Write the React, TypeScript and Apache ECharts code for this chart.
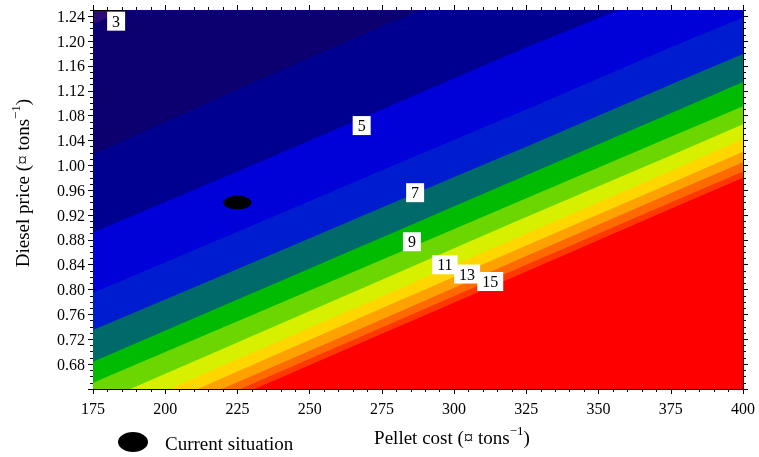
import React, { useEffect, useRef } from 'react';
import * as echarts from 'echarts';

const FONT = '"Liberation Serif", "Times New Roman", serif';

// Contour levels and the colour of the band above each level
const levels = [3, 4, 5, 6, 7, 8, 9, 10, 11, 12, 13, 14, 15];
const bandColors = [
  '#0c0070', '#000090', '#0000d8', '#001ccf', '#006a6a', '#00bb00', '#6cd700',
  '#d6f000', '#ffd600', '#ffa100', '#ff6a00', '#ff3800', '#ff0000',
];
const belowLowestColor = '#2c0c7a';

// Contour lines: [pellet cost, diesel price]
const contour3 = [[175, 1.227], [200, 1.28], [400, 1.68]];
const contour4 = [[175, 1.017], [225, 1.122], [275, 1.224], [300, 1.27], [400, 1.47]];
const contour5 = [[175, 0.892], [225, 0.99], [275, 1.09], [325, 1.19], [357, 1.25], [400, 1.335]];
const contour6 = [[175, 0.795], [225, 0.893], [275, 0.992], [325, 1.09], [375, 1.19], [400, 1.238]];
const contour7 = [[175, 0.735], [225, 0.833], [275, 0.932], [325, 1.03], [375, 1.13], [400, 1.179]];
const contour8 = [[175, 0.684], [225, 0.784], [275, 0.884], [325, 0.984], [375, 1.084], [400, 1.134]];
const contour9 = [[175, 0.65], [225, 0.749], [275, 0.848], [325, 0.947], [375, 1.046], [400, 1.095]];
const contour10 = [[175, 0.614], [225, 0.715], [275, 0.816], [325, 0.917], [375, 1.016], [400, 1.066]];
const contour11 = [[175, 0.586], [225, 0.688], [275, 0.789], [325, 0.89], [375, 0.991], [400, 1.042]];
const contour12 = [[175, 0.566], [225, 0.668], [275, 0.77], [325, 0.871], [375, 0.971], [400, 1.022]];
const contour13 = [[175, 0.55], [225, 0.651], [275, 0.752], [325, 0.854], [375, 0.955], [400, 1.005]];
const contour14 = [[175, 0.538], [225, 0.638], [275, 0.739], [325, 0.84], [375, 0.94], [400, 0.99]];
const contour15 = [[175, 0.527], [225, 0.628], [275, 0.729], [325, 0.829], [375, 0.93], [400, 0.98]];
const contours = [
  contour3, contour4, contour5, contour6, contour7, contour8, contour9,
  contour10, contour11, contour12, contour13, contour14, contour15,
];

// Contour labels
const labelText = ['3', '5', '7', '9', '11', '13', '15'];
const labelX = [183, 268, 286.5, 285.4, 296.8, 304.5, 312.5];
const labelY = [1.232, 1.064, 0.956, 0.877, 0.84, 0.825, 0.813];

// Current situation
const currentX = [225];
const currentY = [0.94];

// Axes
const xMin = 175;
const xMax = 400;
const xStep = 25;
const yMin = 0.64;
const yMax = 1.25;
const yMajorTicks = [0.64, 0.68, 0.72, 0.76, 0.8, 0.84, 0.88, 0.92, 0.96, 1.0, 1.04, 1.08, 1.12, 1.16, 1.2, 1.24];
const yTickLabels = [0.68, 0.72, 0.76, 0.8, 0.84, 0.88, 0.92, 0.96, 1.0, 1.04, 1.08, 1.12, 1.16, 1.2, 1.24];
const yMinorTicks: number[] = [];
for (let i = 64; i <= 125; i++) {
  if ((i - 64) % 4 !== 0) yMinorTicks.push(i / 100);
}

const ELLIPSE = 'path://M0,5 A10,5 0 1,1 20,5 A10,5 0 1,1 0,5 Z';

const titleStyle = (text: string) => ({
  text,
  fontFamily: FONT,
  fontSize: 19,
  lineHeight: 26,
  fill: '#000',
  align: 'center',
  verticalAlign: 'middle',
  rich: {
    sup: { fontFamily: FONT, fontSize: 13, lineHeight: 11, verticalAlign: 'top', fill: '#000' },
  },
});

export default function App() {
  const ref = useRef<HTMLDivElement>(null);
  useEffect(() => {
    if (!ref.current) return;
    const chart = echarts.init(ref.current, null, { renderer: 'svg' });
    const axisLine = { show: true, lineStyle: { color: '#000', width: 1 } };
    const mkY = (pos: string, major: boolean, labels: boolean) => ({
      type: 'value',
      position: pos,
      min: yMin,
      max: yMax,
      axisLine: major ? axisLine : { show: false },
      axisTick: {
        show: true,
        customValues: major ? yMajorTicks : yMinorTicks,
        length: major ? 5 : 3,
        lineStyle: { color: '#000' },
      },
      axisLabel: labels
        ? {
            show: true,
            customValues: yTickLabels,
            formatter: (v: number) => v.toFixed(2),
            fontFamily: FONT,
            fontSize: 16,
            color: '#000',
            margin: 8,
          }
        : { show: false },
      splitLine: { show: false },
    });
    const mkX = (pos: string, labels: boolean) => ({
      type: 'value',
      position: pos,
      min: xMin,
      max: xMax,
      interval: xStep,
      axisLine,
      axisTick: { show: true, length: 5, lineStyle: { color: '#000' } },
      minorTick: { show: true, splitNumber: 5, length: 3, lineStyle: { color: '#000' } },
      axisLabel: labels
        ? { show: true, fontFamily: FONT, fontSize: 16, color: '#000', margin: 11 }
        : { show: false },
      splitLine: { show: false },
      minorSplitLine: { show: false },
    });

    const areaSeries = contours.map((c, i) => ({
      type: 'line',
      name: 'level ' + levels[i],
      data: c,
      symbol: 'none',
      silent: true,
      clip: true,
      lineStyle: { width: 0, opacity: 0 },
      areaStyle: { color: bandColors[i], opacity: 1, origin: 'start' },
      xAxisIndex: 0,
      yAxisIndex: 0,
    }));

    chart.setOption({
      animation: false,
      grid: {
        left: 93,
        right: 16,
        top: 10,
        bottom: 68,
        show: true,
        backgroundColor: belowLowestColor,
        borderWidth: 0,
      },
      xAxis: [mkX('bottom', true), mkX('top', false)],
      yAxis: [mkY('left', true, true), mkY('left', false, false), mkY('right', true, false), mkY('right', false, false)],
      series: [
        ...areaSeries,
        {
          type: 'scatter',
          name: 'Current situation',
          data: currentX.map((x, i) => [x, currentY[i]]),
          symbol: ELLIPSE,
          symbolSize: [28, 14],
          itemStyle: { color: '#000', opacity: 1 },
          silent: true,
          z: 5,
        },
        {
          type: 'scatter',
          name: 'labels',
          data: labelX.map((x, i) => [x, labelY[i], labelText[i]]),
          symbolSize: 0,
          silent: true,
          z: 6,
          itemStyle: { opacity: 1 },
          label: {
            show: true,
            position: 'inside',
            formatter: (p: any) => p.data[2],
            fontFamily: FONT,
            fontSize: 16,
            color: '#000',
            opacity: 1,
            backgroundColor: '#ffffff',
            padding: [2, 5, 1, 5],
          },
        },
      ],
      graphic: [
        {
          type: 'text',
          x: 452,
          y: 437,
          style: titleStyle('Pellet cost (¤ tons{sup|−1})'),
        },
        {
          type: 'text',
          x: 22,
          y: 183,
          rotation: Math.PI / 2,
          style: titleStyle('Diesel price (¤ tons{sup|−1})'),
        },
        {
          type: 'ellipse',
          shape: { cx: 133, cy: 442, rx: 15, ry: 10 },
          style: { fill: '#000' },
        },
        {
          type: 'text',
          x: 165,
          y: 443,
          style: {
            text: 'Current situation',
            fontFamily: FONT,
            fontSize: 19,
            fill: '#000',
            align: 'left',
            verticalAlign: 'middle',
          },
        },
      ],
    });
    return () => chart.dispose();
  }, []);
  return (
    <div
      ref={ref}
      style={{ position: 'fixed', left: 0, top: 0, width: 759, height: 457 }}
    />
  );
}
